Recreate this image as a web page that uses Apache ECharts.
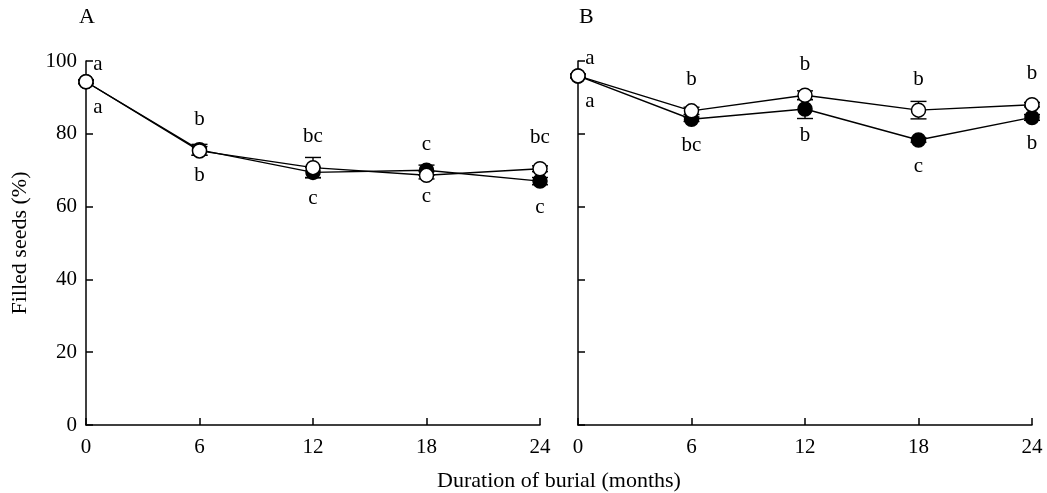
<!DOCTYPE html>
<html>
<head>
<meta charset="utf-8">
<script src="https://cdn.jsdelivr.net/npm/echarts@6/dist/echarts.min.js"></script>
<style>
    html, body { margin: 0; padding: 0; background: #fff; }
    #chart { width: 1047px; height: 493px; }
</style>
</head>
<body>
<div id="chart"></div>
<script>
// burial duration (months)
var months = [0, 6, 12, 18, 24];
var xTicks = [0, 6, 12, 18, 24];
var yTicks = [0, 20, 40, 60, 80, 100];

// panel A
var aOpen = [94.3, 75.3, 70.7, 68.6, 70.4];
var aOpenErr = [0.5, 1.2, 2.8, 1.0, 0.8];
var aFilled = [94.3, 75.6, 69.4, 70.0, 67.0];
var aFilledErr = [0.5, 1.5, 1.4, 1.4, 1.0];
var aUpper = ['a', 'b', 'bc', 'c', 'bc'];
var aLower = ['a', 'b', 'c', 'c', 'c'];

// panel B
var bOpen = [95.9, 86.3, 90.6, 86.5, 88.0];
var bOpenErr = [0.5, 1.0, 1.2, 2.4, 0.6];
var bFilled = [95.9, 84.0, 86.8, 78.3, 84.5];
var bFilledErr = [0.5, 0.6, 2.6, 0.6, 0.8];
var bUpper = ['a', 'b', 'b', 'b', 'b'];
var bLower = ['a', 'bc', 'b', 'c', 'b'];

var sFont_vob = '"Times New Roman", "Liberation Serif", serif';

var fnPoints = function (ys, isUpper) { // 数据点 + 第一个点的标签偏移
    return months.map(function (x, i) {
        if (i === 0) {
            return { value: [x, ys[i]], label: { offset: isUpper ? [12, -17] : [12, 26] } };
        }
        return [x, ys[i]];
    });
};

var fnErrors = function (ys, es) {
    return months.map(function (x, i) {
        return [x, ys[i] - es[i], ys[i] + es[i]];
    });
};

var renderError = function (params, api) {
    var x = api.value(0);
    var pLo = api.coord([x, api.value(1)]);
    var pHi = api.coord([x, api.value(2)]);
    var w = 8;
    var st = { stroke: '#000', lineWidth: 1.4 };
    return {
        type: 'group',
        children: [
            { type: 'line', shape: { x1: pLo[0], y1: pLo[1], x2: pHi[0], y2: pHi[1] }, style: st },
            { type: 'line', shape: { x1: pLo[0] - w, y1: pLo[1], x2: pLo[0] + w, y2: pLo[1] }, style: st },
            { type: 'line', shape: { x1: pHi[0] - w, y1: pHi[1], x2: pHi[0] + w, y2: pHi[1] }, style: st }
        ]
    };
};

var fnLine = function (idx, ys, labels, isOpen) {
    return {
        type: 'line',
        xAxisIndex: idx,
        yAxisIndex: idx,
        z: isOpen ? 4 : 3,
        symbol: 'circle',
        symbolSize: 14,
        showAllSymbol: true,
        lineStyle: { color: '#000', width: 1.4 },
        itemStyle: { color: isOpen ? '#fff' : '#000', borderColor: '#000', borderWidth: 1.5 },
        label: {
            show: true,
            position: 'inside',
            offset: isOpen ? [0, -31] : [0, 26],
            color: '#000',
            fontFamily: sFont_vob,
            fontSize: 21,
            formatter: function (p) { return labels[p.dataIndex]; }
        },
        emphasis: { disabled: true },
        animation: false,
        data: fnPoints(ys, isOpen)
    };
};

var fnErrSeries = function (idx, ys, es) {
    return {
        type: 'custom',
        xAxisIndex: idx,
        yAxisIndex: idx,
        z: 2,
        renderItem: renderError,
        encode: { x: 0, y: [1, 2] },
        animation: false,
        data: fnErrors(ys, es)
    };
};

var fnXAxis = function (idx) {
    return {
        type: 'value',
        gridIndex: idx,
        min: xTicks[0],
        max: xTicks[xTicks.length - 1],
        interval: xTicks[1] - xTicks[0],
        axisLine: { lineStyle: { color: '#000', width: 1.5 } },
        axisTick: { inside: true, length: 7, lineStyle: { color: '#000', width: 1.5 } },
        axisLabel: { color: '#000', fontFamily: sFont_vob, fontSize: 21, margin: 12 },
        splitLine: { show: false }
    };
};

var fnYAxis = function (idx) {
    return {
        type: 'value',
        gridIndex: idx,
        min: yTicks[0],
        max: yTicks[yTicks.length - 1],
        interval: yTicks[1] - yTicks[0],
        name: idx === 0 ? 'Filled seeds (%)' : '',
        nameLocation: 'middle',
        nameGap: 55,
        nameTextStyle: { color: '#000', fontFamily: sFont_vob, fontSize: 22 },
        axisLine: { show: true, lineStyle: { color: '#000', width: 1.5 } },
        axisTick: { show: true, inside: true, length: 7, lineStyle: { color: '#000', width: 1.5 } },
        axisLabel: { show: idx === 0, color: '#000', fontFamily: sFont_vob, fontSize: 21, margin: 9 },
        splitLine: { show: false }
    };
};

var myChart = echarts.init(document.getElementById('chart'), null, { renderer: 'canvas' });

var option = {
    backgroundColor: '#fff',
    animation: false,
    grid: [
        { left: 86, top: 61, width: 454, height: 364 },
        { left: 578, top: 61, width: 454, height: 364 }
    ],
    xAxis: [fnXAxis(0), fnXAxis(1)],
    yAxis: [fnYAxis(0), fnYAxis(1)],
    graphic: [
        { type: 'text', left: 79, top: 6, style: { text: 'A', font: '22px ' + sFont_vob, fill: '#000' } },
        { type: 'text', left: 579, top: 6, style: { text: 'B', font: '22px ' + sFont_vob, fill: '#000' } },
        {
            type: 'text', x: 559, y: 481,
            style: { text: 'Duration of burial (months)', font: '22px ' + sFont_vob, fill: '#000', align: 'center', verticalAlign: 'middle' }
        }
    ],
    series: [
        fnErrSeries(0, aFilled, aFilledErr),
        fnErrSeries(0, aOpen, aOpenErr),
        fnLine(0, aFilled, aLower, false),
        fnLine(0, aOpen, aUpper, true),
        fnErrSeries(1, bFilled, bFilledErr),
        fnErrSeries(1, bOpen, bOpenErr),
        fnLine(1, bFilled, bLower, false),
        fnLine(1, bOpen, bUpper, true)
    ]
};

myChart.setOption(option);
window.addEventListener('resize', function () {
    myChart.resize();
});
</script>
</body>
</html>
